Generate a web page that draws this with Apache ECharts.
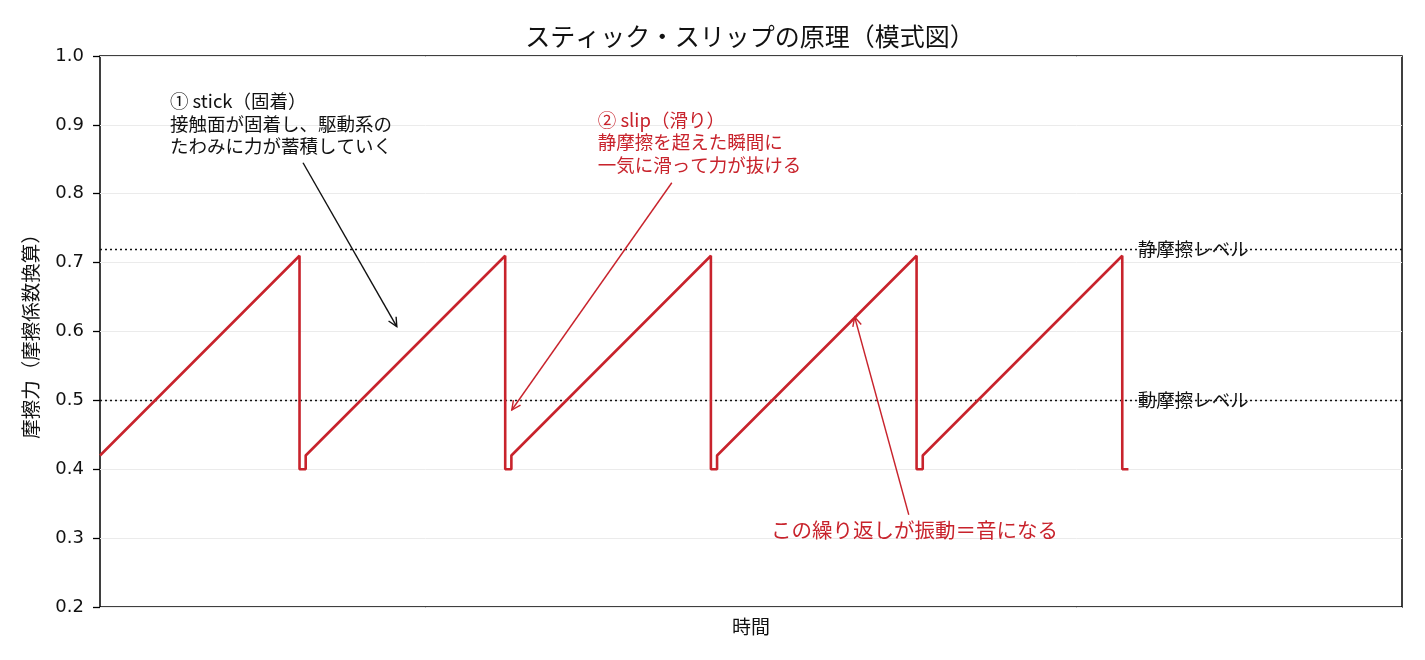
<!DOCTYPE html>
<html><head><meta charset="utf-8">
<script src="https://cdn.jsdelivr.net/npm/echarts@6/dist/echarts.min.js"></script>
<style>html,body{margin:0;padding:0;background:#fff}#c{width:1425px;height:660px}</style>
</head><body><div id="c"></div>
<script>
// sawtooth (stick-slip) points
const times = [0, 0.97, 0.97, 1.0, 1.0, 1.97, 1.97, 2.0, 2.0, 2.97, 2.97, 3.0, 3.0, 3.97, 3.97, 4.0, 4.0, 4.97, 4.97, 5.0];
const force = [0.42, 0.71, 0.40, 0.40, 0.42, 0.71, 0.40, 0.40, 0.42, 0.71, 0.40, 0.40, 0.42, 0.71, 0.40, 0.40, 0.42, 0.71, 0.40, 0.40];
// reference levels
const levelValues = [0.72, 0.50];
const levelLabels = ['静摩擦レベル', '動摩擦レベル'];
const levelLabelX = 5.045;
// y ticks
const yMin = 0.2, yMax = 1.0, yStep = 0.1;
const xMin = 0, xMax = 6.33;
// annotations
const noteTexts = ['① stick（固着）\n接触面が固着し、駆動系の\nたわみに力が蓄積していく',
                   '② slip（滑り）\n静摩擦を超えた瞬間に\n一気に滑って力が抜ける',
                   'この繰り返しが振動＝音になる'];
const noteX = [0.34, 2.42, 3.96];
const noteY = [0.951, 0.924, 0.312];
const noteAlign = ['left', 'left', 'center'];
const noteVAlign = ['top', 'top', 'middle'];
const noteColor = ['#111111', '#c8232c', '#c8232c'];
const noteSize = [18.5, 18.5, 20.5];
// arrows: tail -> head
const arrowFromX = [0.987, 2.78, 3.932];
const arrowFromY = [0.845, 0.816, 0.334];
const arrowToX = [1.443, 2.002, 3.669];
const arrowToY = [0.607, 0.486, 0.621];
const arrowColor = ['#111111', '#c8232c', '#c8232c'];

const RED = '#c8232c';
const FONT = '"Noto Sans CJK JP", "Noto Sans", sans-serif';
const NUMFONT = '"DejaVu Sans", sans-serif';

const chart = echarts.init(document.getElementById('c'), null, {renderer: 'canvas'});
const lineData = times.map((t, i) => [t, force[i]]);

chart.setOption({
  animation: false,
  backgroundColor: '#fff',
  title: {
    text: 'スティック・スリップの原理（模式図）',
    left: 745, top: 19, textAlign: 'center',
    textStyle: {fontFamily: FONT, fontSize: 25, fontWeight: 'normal', color: '#111'}
  },
  grid: {left: 100, right: 23, top: 56, bottom: 53, show: true, borderColor: '#000', borderWidth: 1.5, backgroundColor: 'transparent'},
  xAxis: {
    type: 'value', min: xMin, max: xMax,
    name: '時間', nameLocation: 'middle', nameGap: 10,
    nameTextStyle: {fontFamily: FONT, fontSize: 19, color: '#111', verticalAlign: 'top'},
    axisLine: {show: false}, axisTick: {show: false}, axisLabel: {show: false}, splitLine: {show: false}
  },
  yAxis: {
    type: 'value', min: yMin, max: yMax, interval: yStep,
    name: '摩擦力（摩擦係数換算）', nameLocation: 'middle', nameGap: 60, nameRotate: 90,
    nameTextStyle: {fontFamily: FONT, fontSize: 19.5, color: '#111'},
    axisLine: {show: false},
    axisTick: {show: true, length: 7, lineStyle: {color: '#000', width: 1.3}},
    axisLabel: {fontFamily: NUMFONT, fontSize: 18, color: '#111', margin: 16, formatter: v => v.toFixed(1)},
    splitLine: {show: true, lineStyle: {color: '#ebebeb', width: 1}}
  },
  series: [
    {
      type: 'line', data: lineData, showSymbol: false, symbol: 'none',
      lineStyle: {color: RED, width: 2.6}, z: 5,
      markLine: {
        silent: true, symbol: ['none', 'none'],
        lineStyle: {color: '#111', type: [2, 3], width: 1.3},
        label: {show: false},
        data: levelValues.map(v => ({yAxis: v}))
      }
    },
    {
      type: 'custom', coordinateSystem: 'cartesian2d', clip: false, z: 6,
      data: arrowFromX.map((x, i) => [x, arrowFromY[i], arrowToX[i], arrowToY[i], i]),
      renderItem: (params, api) => {
        const i = api.value(4);
        const p1 = api.coord([api.value(0), api.value(1)]);
        const p2 = api.coord([api.value(2), api.value(3)]);
        const ang = Math.atan2(p2[1] - p1[1], p2[0] - p1[0]);
        const L = 10, a = 0.45;
        const h1 = [p2[0] - L * Math.cos(ang - a), p2[1] - L * Math.sin(ang - a)];
        const h2 = [p2[0] - L * Math.cos(ang + a), p2[1] - L * Math.sin(ang + a)];
        const st = {stroke: arrowColor[i], lineWidth: 1.4, fill: null};
        return {type: 'group', children: [
          {type: 'line', shape: {x1: p1[0], y1: p1[1], x2: p2[0], y2: p2[1]}, style: st},
          {type: 'polyline', shape: {points: [h1, p2, h2]}, style: st}
        ]};
      }
    },
    {
      type: 'custom', coordinateSystem: 'cartesian2d', clip: false, z: 7,
      data: noteX.map((x, i) => [x, noteY[i], i]),
      renderItem: (params, api) => {
        const i = api.value(2);
        const p = api.coord([api.value(0), api.value(1)]);
        return {type: 'text', x: p[0], y: p[1], style: {
          text: noteTexts[i], fill: noteColor[i], align: noteAlign[i], verticalAlign: noteVAlign[i],
          font: noteSize[i] + 'px ' + FONT, lineHeight: 22.5
        }};
      }
    },
    {
      type: 'custom', coordinateSystem: 'cartesian2d', clip: false, z: 7,
      data: levelValues.map((v, i) => [levelLabelX, v, i]),
      renderItem: (params, api) => {
        const i = api.value(2);
        const p = api.coord([api.value(0), api.value(1)]);
        return {type: 'text', x: p[0], y: p[1], style: {
          text: levelLabels[i], fill: '#111', align: 'left', verticalAlign: 'middle',
          font: '18.5px ' + FONT
        }};
      }
    }
  ]
});
</script>
</body></html>
